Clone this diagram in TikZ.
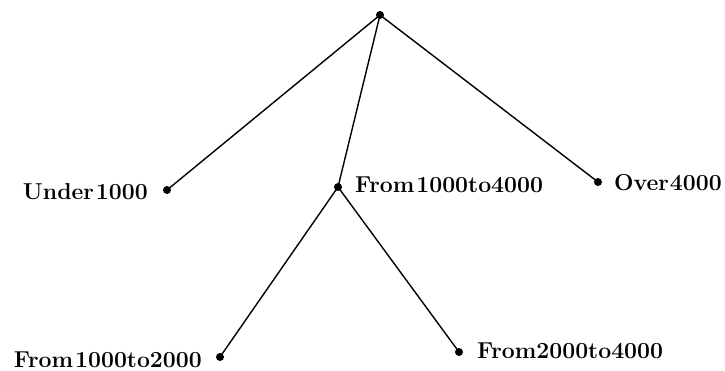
\documentclass[tikz,border=0pt]{standalone}
\begin{document}
\begin{tikzpicture}[x=1pt,y=-1pt,
  dot/.style={circle,fill=black,inner sep=0pt,minimum size=8pt},
  lbl/.style={inner sep=0pt,font=\fontsize{23}{27}\selectfont\bfseries},
  edge/.style={line width=1.4pt}]
\useasboundingbox (0,0) rectangle (725,370);

% tree nodes
\node[dot] (root) at (380,15) {};
\node[dot] (u)    at (167,190) {};
\node[dot] (m)    at (338,187) {};
\node[dot] (o)    at (598,182) {};
\node[dot] (ml)   at (220,357) {};
\node[dot] (mr)   at (459,352) {};

% branches
\draw[edge] (root.center) -- (u.center);
\draw[edge] (root.center) -- (m.center);
\draw[edge] (root.center) -- (o.center);
\draw[edge] (m.center) -- (ml.center);
\draw[edge] (m.center) -- (mr.center);

% labels
\node[lbl,anchor=base east] (ut) at ([xshift=-19pt,yshift=-9pt]u.center) {Under\hspace{2pt}1000};
\node[lbl,anchor=base west] (mt) at ([xshift=17pt,yshift=-5pt]m.center) {From\hspace{2pt}1000to4000};
\node[lbl,anchor=base west] (ot) at ([xshift=16pt,yshift=-8pt]o.center) {Over\hspace{1pt}4000};
\node[lbl,anchor=base east] (mlt) at ([xshift=-18pt,yshift=-10pt]ml.center) {From\hspace{2pt}1000to2000};
\node[lbl,anchor=base west] (mrt) at ([xshift=18pt,yshift=-6pt]mr.center) {From2000to4000};
\end{tikzpicture}
\end{document}
